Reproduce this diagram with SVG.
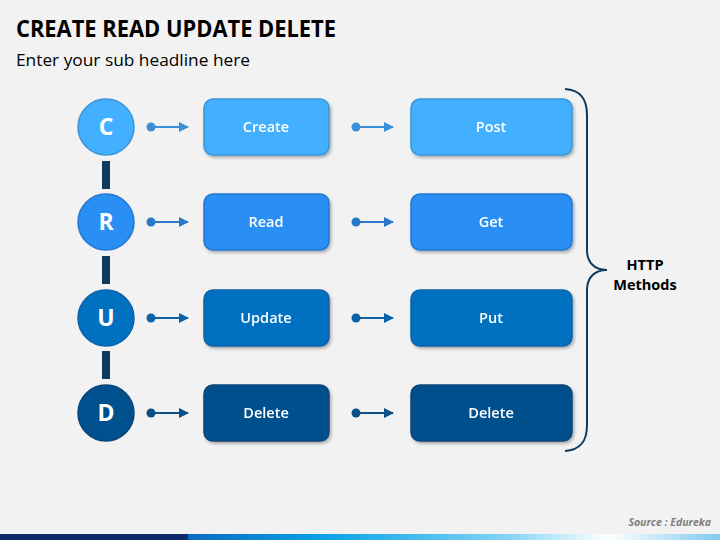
<svg xmlns="http://www.w3.org/2000/svg" width="720" height="540" viewBox="0 0 720 540">
<defs>
<linearGradient id="bar" x1="0" y1="0" x2="1" y2="0">
<stop offset="0" stop-color="#0D2A6B"/>
<stop offset="0.26" stop-color="#0D2A6B"/>
<stop offset="0.262" stop-color="#0A6BC0"/>
<stop offset="0.45" stop-color="#0AA2E8"/>
<stop offset="0.7" stop-color="#7FD3F5"/>
<stop offset="0.845" stop-color="#FFFFFF"/>
<stop offset="1" stop-color="#7FCBEF"/>
</linearGradient>
<filter id="sh" x="-10%" y="-10%" width="125%" height="130%">
<feDropShadow dx="1.5" dy="2" stdDeviation="1.5" flood-color="#000" flood-opacity="0.3"/>
</filter>
<marker id="ah1" viewBox="0 0 10 10" refX="9" refY="5" markerWidth="10" markerHeight="10" markerUnits="userSpaceOnUse" orient="auto"><path d="M0,0 L10,5 L0,10 Z" fill="#3A8FD6"/></marker>
<marker id="ah2" viewBox="0 0 10 10" refX="9" refY="5" markerWidth="10" markerHeight="10" markerUnits="userSpaceOnUse" orient="auto"><path d="M0,0 L10,5 L0,10 Z" fill="#2878CC"/></marker>
<marker id="ah3" viewBox="0 0 10 10" refX="9" refY="5" markerWidth="10" markerHeight="10" markerUnits="userSpaceOnUse" orient="auto"><path d="M0,0 L10,5 L0,10 Z" fill="#0A62A8"/></marker>
<marker id="ah4" viewBox="0 0 10 10" refX="9" refY="5" markerWidth="10" markerHeight="10" markerUnits="userSpaceOnUse" orient="auto"><path d="M0,0 L10,5 L0,10 Z" fill="#0A4F86"/></marker>
</defs>
<style>
.t{font-family:"Open Sans","Liberation Sans",sans-serif;}
.title{font-size:23px;font-weight:bold;fill:#000;}
.sub{font-size:17px;fill:#000;}
.lbl{font-size:14.5px;font-weight:600;fill:#fff;text-anchor:middle;}
.let{font-size:23px;font-weight:bold;fill:#fff;text-anchor:middle;}
.http{font-size:14.5px;font-weight:bold;fill:#000;text-anchor:middle;}
.src{font-size:10.5px;font-style:italic;font-weight:bold;fill:#7F7F7F;text-anchor:end;}
.c1{fill:#42AFFF;stroke:#3A95DA;stroke-width:1.5;}
.c2{fill:#2A8FF5;stroke:#2478D0;stroke-width:1.5;}
.c3{fill:#0071C1;stroke:#0A62A8;stroke-width:1.5;}
.c4{fill:#00508D;stroke:#0A4478;stroke-width:1.5;}
.link{stroke:#0D3A5E;stroke-width:8;}
</style>
<rect width="720" height="540" fill="#F2F2F2"/>
<text class="t title" x="16" y="37" textLength="320" lengthAdjust="spacingAndGlyphs">CREATE READ UPDATE DELETE</text>
<text class="t sub" x="16" y="66" textLength="234" lengthAdjust="spacingAndGlyphs">Enter your sub headline here</text>

<g id="connectors">
<line class="link" x1="106" y1="161" x2="106" y2="189"/>
<line class="link" x1="106" y1="256" x2="106" y2="284"/>
<line class="link" x1="106" y1="351" x2="106" y2="379"/>
<g stroke-width="2">
<circle cx="151" cy="127" r="4.5" fill="#3A8FD6"/><line x1="151" y1="127" x2="188" y2="127" stroke="#3A8FD6" marker-end="url(#ah1)"/>
<circle cx="356" cy="127" r="4.5" fill="#3A8FD6"/><line x1="356" y1="127" x2="393" y2="127" stroke="#3A8FD6" marker-end="url(#ah1)"/>
<circle cx="151" cy="222" r="4.5" fill="#2878CC"/><line x1="151" y1="222" x2="188" y2="222" stroke="#2878CC" marker-end="url(#ah2)"/>
<circle cx="356" cy="222" r="4.5" fill="#2878CC"/><line x1="356" y1="222" x2="393" y2="222" stroke="#2878CC" marker-end="url(#ah2)"/>
<circle cx="151" cy="318" r="4.5" fill="#0A62A8"/><line x1="151" y1="318" x2="188" y2="318" stroke="#0A62A8" marker-end="url(#ah3)"/>
<circle cx="356" cy="318" r="4.5" fill="#0A62A8"/><line x1="356" y1="318" x2="393" y2="318" stroke="#0A62A8" marker-end="url(#ah3)"/>
<circle cx="151" cy="413" r="4.5" fill="#0A4F86"/><line x1="151" y1="413" x2="188" y2="413" stroke="#0A4F86" marker-end="url(#ah4)"/>
<circle cx="356" cy="413" r="4.5" fill="#0A4F86"/><line x1="356" y1="413" x2="393" y2="413" stroke="#0A4F86" marker-end="url(#ah4)"/>
</g>
<path d="M565,89 C580,90 587,98 587,115 L587,250 C587,262 594,270 607,270 C594,270 587,278 587,290 L587,425 C587,442 580,450 565,451" fill="none" stroke="#0D3A5E" stroke-width="2"/>
</g>

<g id="node-C"><circle class="c1" cx="106" cy="127" r="28"/><text class="t let" x="106" y="135">C</text></g>
<g id="node-R"><circle class="c2" cx="106" cy="222" r="28"/><text class="t let" x="106" y="230">R</text></g>
<g id="node-U"><circle class="c3" cx="106" cy="318" r="28"/><text class="t let" x="106" y="326">U</text></g>
<g id="node-D"><circle class="c4" cx="106" cy="413" r="28"/><text class="t let" x="106" y="421">D</text></g>

<g id="box-create" filter="url(#sh)"><rect class="c1" x="204" y="99" width="125" height="56" rx="9"/><text class="t lbl" x="266" y="132">Create</text></g>
<g id="box-read" filter="url(#sh)"><rect class="c2" x="204" y="194" width="125" height="56" rx="9"/><text class="t lbl" x="266" y="227">Read</text></g>
<g id="box-update" filter="url(#sh)"><rect class="c3" x="204" y="290" width="125" height="56" rx="9"/><text class="t lbl" x="266" y="323">Update</text></g>
<g id="box-delete" filter="url(#sh)"><rect class="c4" x="204" y="385" width="125" height="56" rx="9"/><text class="t lbl" x="266" y="418">Delete</text></g>

<g id="box-post" filter="url(#sh)"><rect class="c1" x="411" y="99" width="161" height="56" rx="9"/><text class="t lbl" x="491" y="132">Post</text></g>
<g id="box-get" filter="url(#sh)"><rect class="c2" x="411" y="194" width="161" height="56" rx="9"/><text class="t lbl" x="491" y="227">Get</text></g>
<g id="box-put" filter="url(#sh)"><rect class="c3" x="411" y="290" width="161" height="56" rx="9"/><text class="t lbl" x="491" y="323">Put</text></g>
<g id="box-delete2" filter="url(#sh)"><rect class="c4" x="411" y="385" width="161" height="56" rx="9"/><text class="t lbl" x="491" y="418">Delete</text></g>

<g id="http-label"><text class="t http" x="645" y="270">HTTP</text><text class="t http" x="645" y="290">Methods</text></g>

<text class="t src" x="711" y="526">Source : Edureka</text>
<rect x="0" y="534" width="720" height="6" fill="url(#bar)"/>
</svg>
